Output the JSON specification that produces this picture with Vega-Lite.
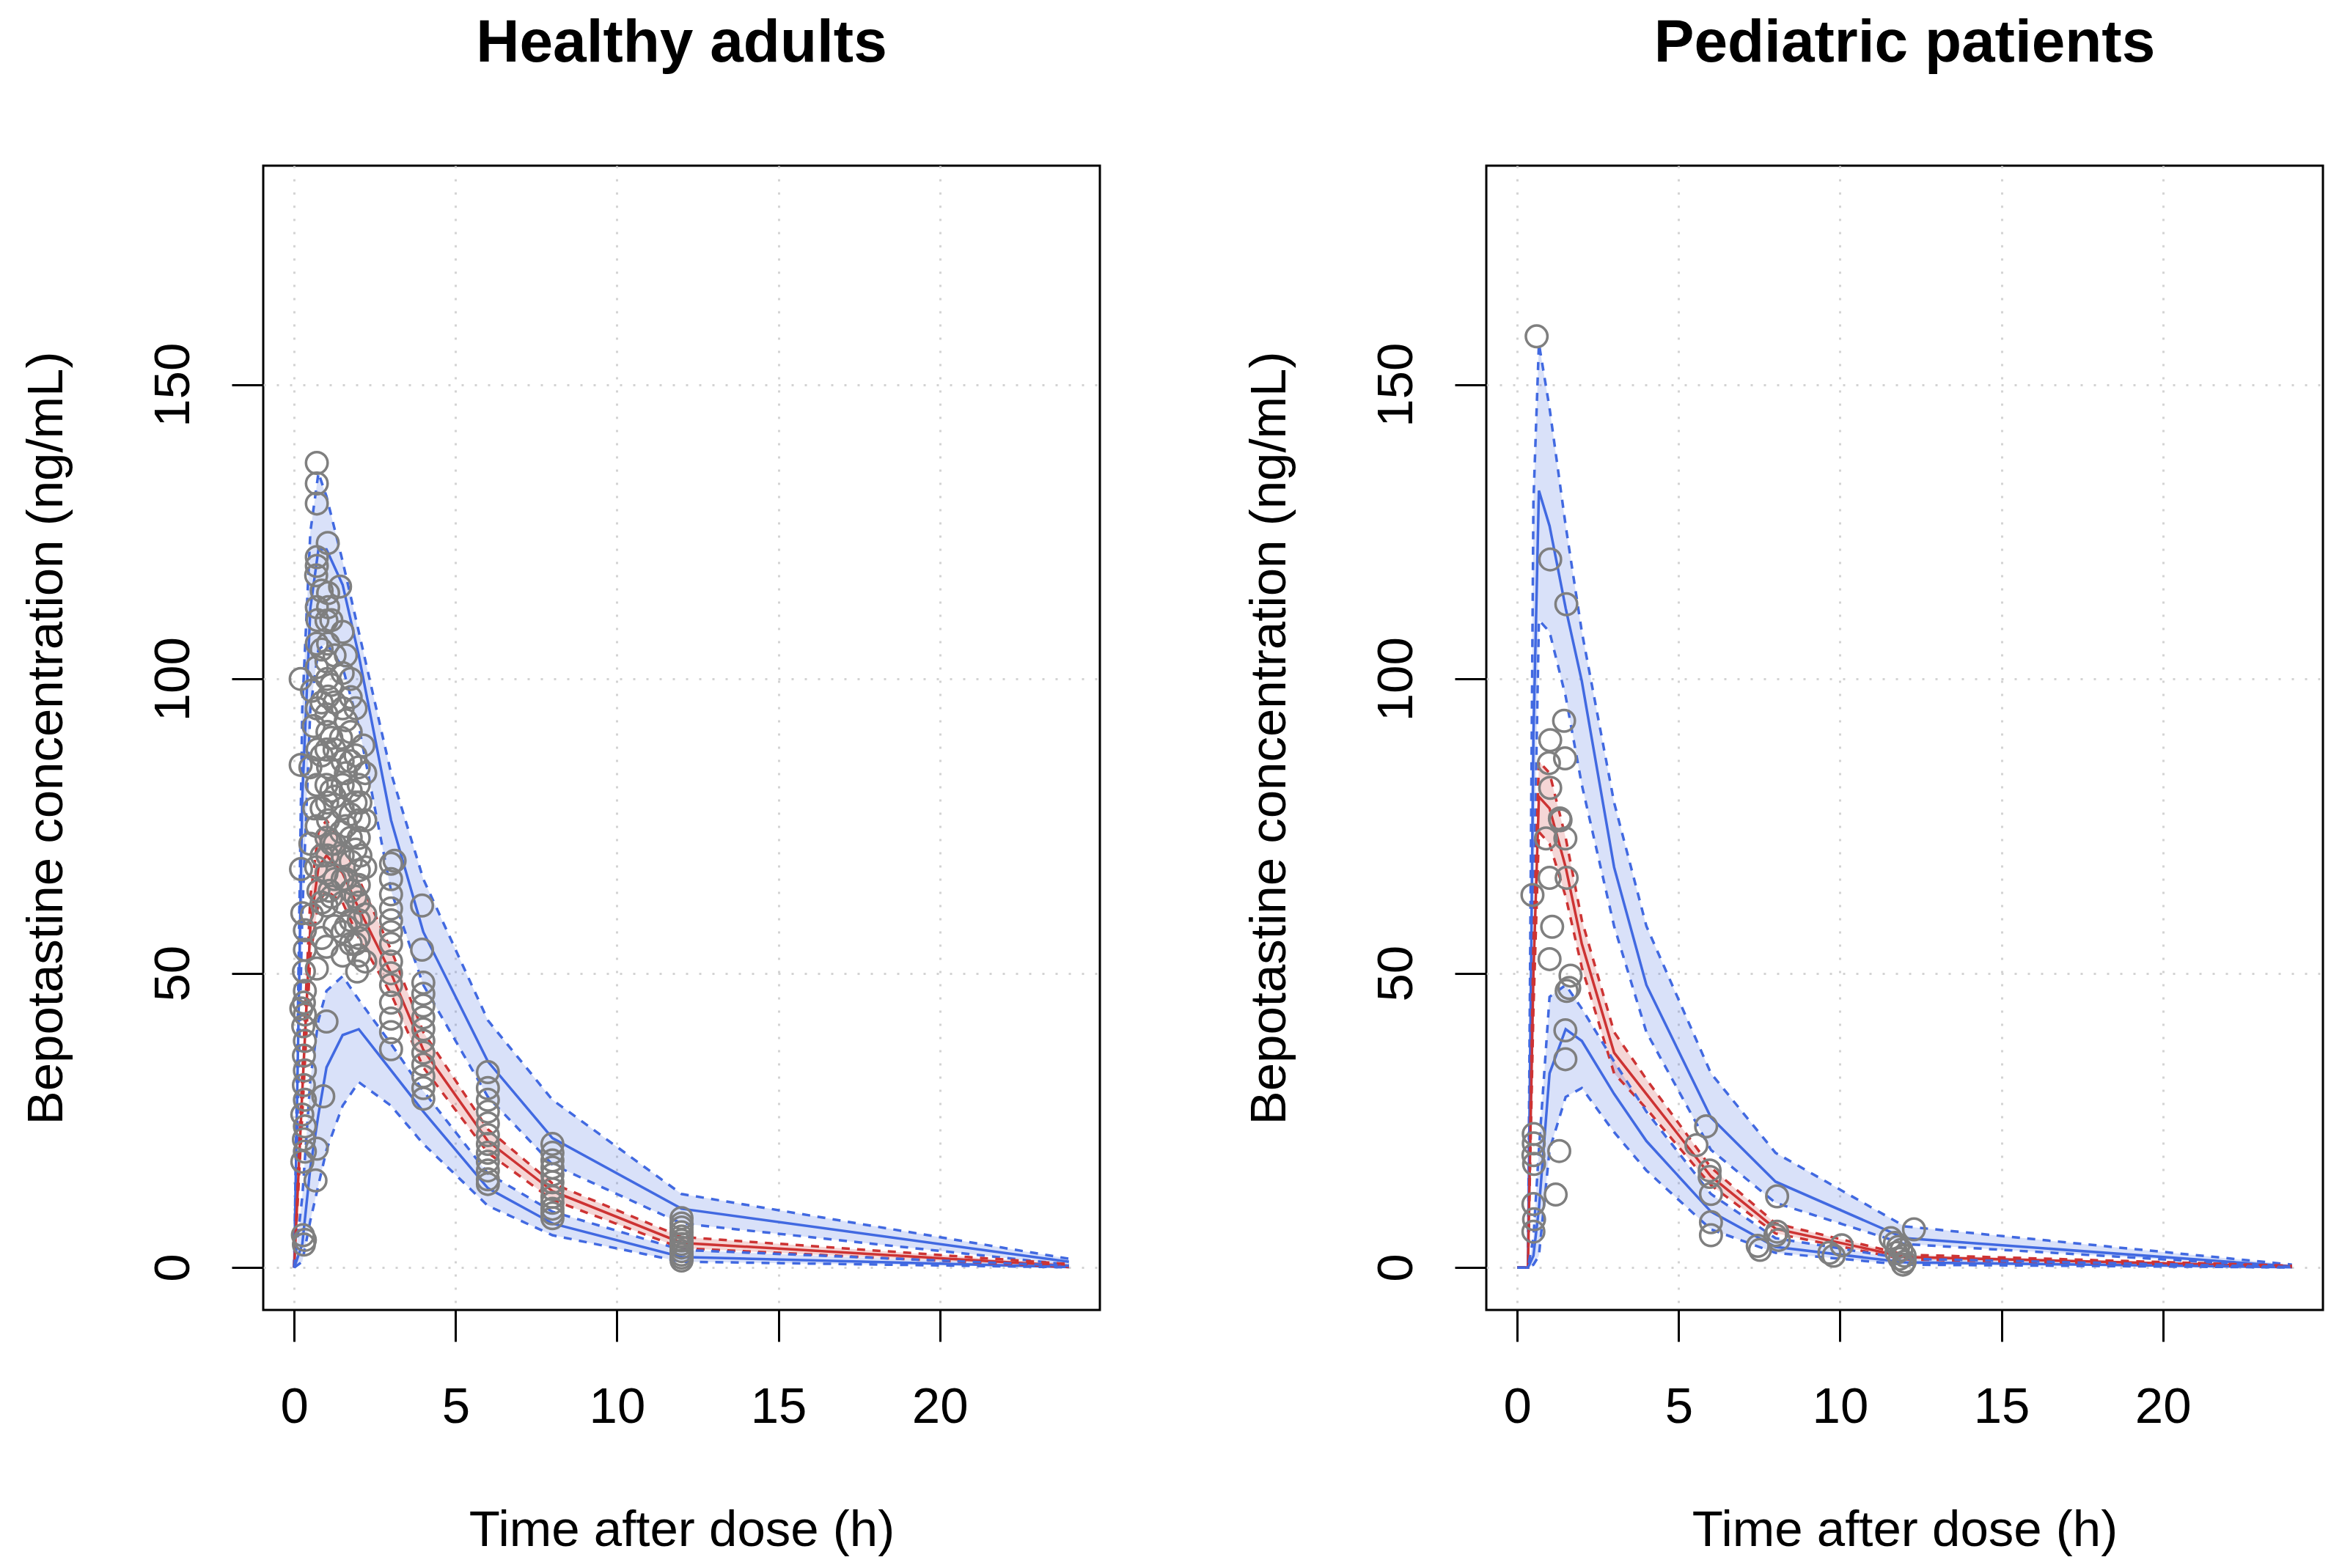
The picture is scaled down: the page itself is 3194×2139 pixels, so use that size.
{
"$schema": "https://vega.github.io/schema/vega-lite/v6.json",
"background": "white",
"padding": {"left": 27, "top": 16, "right": 0, "bottom": 0},
"autosize": {"type": "pad"},
"spacing": 527,
"bounds": "flush",
"config": {
  "font": "Liberation Sans",
  "view": {"stroke": "black", "strokeWidth": 3},
  "axis": {"domain": false, "tickColor": "black", "tickWidth": 3, "tickSize": 43, "labelColor": "black", "labelFontSize": 69, "labelFont": "Liberation Sans", "titleFont": "Liberation Sans", "titleFontSize": 69, "titleFontWeight": "normal", "titleColor": "black", "grid": true, "gridColor": "#D3D3D3", "gridWidth": 3, "gridDash": [3, 15], "labelFlush": false, "labelOverlap": false, "labelBound": false}
},
"datasets": {
"bands": [
{"p":"A","b":"upper","t":0,"lo":0,"mid":0,"hi":0},
{"p":"A","b":"upper","t":0.25,"lo":60,"mid":80,"hi":95},
{"p":"A","b":"upper","t":0.5,"lo":95,"mid":112,"hi":125},
{"p":"A","b":"upper","t":0.75,"lo":105,"mid":122,"hi":135},
{"p":"A","b":"upper","t":1,"lo":106,"mid":122,"hi":131},
{"p":"A","b":"upper","t":1.5,"lo":102,"mid":116,"hi":120},
{"p":"A","b":"upper","t":2,"lo":92,"mid":104,"hi":108},
{"p":"A","b":"upper","t":3,"lo":64,"mid":76,"hi":84},
{"p":"A","b":"upper","t":4,"lo":48,"mid":57,"hi":66},
{"p":"A","b":"upper","t":6,"lo":29,"mid":35,"hi":42},
{"p":"A","b":"upper","t":8,"lo":17.5,"mid":22,"hi":28.5},
{"p":"A","b":"upper","t":12,"lo":7.5,"mid":10,"hi":12.5},
{"p":"A","b":"upper","t":24,"lo":0.5,"mid":1,"hi":1.5},
{"p":"A","b":"median","t":0,"lo":0,"mid":0,"hi":0},
{"p":"A","b":"median","t":0.25,"lo":26,"mid":30,"hi":33},
{"p":"A","b":"median","t":0.5,"lo":53,"mid":58,"hi":63},
{"p":"A","b":"median","t":0.75,"lo":62,"mid":68,"hi":74},
{"p":"A","b":"median","t":1,"lo":64,"mid":70,"hi":76},
{"p":"A","b":"median","t":1.5,"lo":62,"mid":67,"hi":72},
{"p":"A","b":"median","t":2,"lo":56,"mid":61,"hi":66},
{"p":"A","b":"median","t":3,"lo":46.5,"mid":50,"hi":54},
{"p":"A","b":"median","t":4,"lo":34,"mid":37,"hi":40},
{"p":"A","b":"median","t":6,"lo":19.5,"mid":21.5,"hi":23.5},
{"p":"A","b":"median","t":8,"lo":11.5,"mid":13,"hi":14.3},
{"p":"A","b":"median","t":12,"lo":3.3,"mid":4.2,"hi":5.2},
{"p":"A","b":"median","t":24,"lo":0.1,"mid":0.3,"hi":0.6},
{"p":"A","b":"lower","t":0,"lo":0,"mid":0,"hi":0},
{"p":"A","b":"lower","t":0.25,"lo":1,"mid":4,"hi":12},
{"p":"A","b":"lower","t":0.5,"lo":8,"mid":17,"hi":32},
{"p":"A","b":"lower","t":0.75,"lo":14,"mid":26,"hi":42},
{"p":"A","b":"lower","t":1,"lo":20,"mid":34,"hi":47},
{"p":"A","b":"lower","t":1.5,"lo":27.5,"mid":39.5,"hi":49.5},
{"p":"A","b":"lower","t":2,"lo":31.5,"mid":40.5,"hi":45.5},
{"p":"A","b":"lower","t":3,"lo":27.5,"mid":33.5,"hi":38},
{"p":"A","b":"lower","t":4,"lo":21,"mid":26.5,"hi":30},
{"p":"A","b":"lower","t":6,"lo":10.5,"mid":13.5,"hi":16},
{"p":"A","b":"lower","t":8,"lo":5.5,"mid":7.5,"hi":9.5},
{"p":"A","b":"lower","t":12,"lo":1,"mid":1.8,"hi":3},
{"p":"A","b":"lower","t":24,"lo":0.05,"mid":0.1,"hi":0.3},
{"p":"P","b":"upper","t":0,"lo":0,"mid":0,"hi":0},
{"p":"P","b":"upper","t":0.33,"lo":0,"mid":0,"hi":0},
{"p":"P","b":"upper","t":0.5,"lo":60,"mid":90,"hi":130},
{"p":"P","b":"upper","t":0.67,"lo":110,"mid":132,"hi":157},
{"p":"P","b":"upper","t":1,"lo":108,"mid":126,"hi":146},
{"p":"P","b":"upper","t":1.5,"lo":97,"mid":112,"hi":126},
{"p":"P","b":"upper","t":2,"lo":82,"mid":99.6,"hi":108},
{"p":"P","b":"upper","t":3,"lo":58,"mid":68,"hi":79},
{"p":"P","b":"upper","t":4,"lo":40,"mid":48,"hi":58},
{"p":"P","b":"upper","t":6,"lo":20,"mid":25.5,"hi":33},
{"p":"P","b":"upper","t":8,"lo":11,"mid":14.6,"hi":19.5},
{"p":"P","b":"upper","t":12,"lo":4,"mid":5,"hi":7},
{"p":"P","b":"upper","t":24,"lo":0.1,"mid":0.2,"hi":0.5},
{"p":"P","b":"median","t":0,"lo":0,"mid":0,"hi":0},
{"p":"P","b":"median","t":0.33,"lo":0,"mid":0,"hi":0},
{"p":"P","b":"median","t":0.5,"lo":44,"mid":50,"hi":55},
{"p":"P","b":"median","t":0.67,"lo":74,"mid":80,"hi":86},
{"p":"P","b":"median","t":1,"lo":72,"mid":78,"hi":84},
{"p":"P","b":"median","t":1.5,"lo":63,"mid":68,"hi":73},
{"p":"P","b":"median","t":2,"lo":51,"mid":55,"hi":59},
{"p":"P","b":"median","t":3,"lo":33,"mid":36.5,"hi":40},
{"p":"P","b":"median","t":4,"lo":27,"mid":29.5,"hi":32},
{"p":"P","b":"median","t":6,"lo":14,"mid":15.5,"hi":17},
{"p":"P","b":"median","t":8,"lo":5.8,"mid":6.6,"hi":7.5},
{"p":"P","b":"median","t":12,"lo":1.4,"mid":1.8,"hi":2.2},
{"p":"P","b":"median","t":24,"lo":0.1,"mid":0.2,"hi":0.3},
{"p":"P","b":"lower","t":0,"lo":0,"mid":0,"hi":0},
{"p":"P","b":"lower","t":0.33,"lo":0,"mid":0,"hi":0},
{"p":"P","b":"lower","t":0.5,"lo":0.5,"mid":2,"hi":5},
{"p":"P","b":"lower","t":0.67,"lo":2,"mid":10,"hi":20},
{"p":"P","b":"lower","t":1,"lo":20,"mid":33,"hi":46},
{"p":"P","b":"lower","t":1.5,"lo":29,"mid":40.5,"hi":48},
{"p":"P","b":"lower","t":2,"lo":30.5,"mid":38.5,"hi":44},
{"p":"P","b":"lower","t":3,"lo":23,"mid":29.5,"hi":35},
{"p":"P","b":"lower","t":4,"lo":16.5,"mid":21.5,"hi":26.5},
{"p":"P","b":"lower","t":6,"lo":6.5,"mid":9.5,"hi":12.5},
{"p":"P","b":"lower","t":8,"lo":2.5,"mid":3.5,"hi":5},
{"p":"P","b":"lower","t":12,"lo":0.5,"mid":0.9,"hi":1.5},
{"p":"P","b":"lower","t":24,"lo":0.02,"mid":0.05,"hi":0.1}
],
"obs": [
{"p":"A","t":0.2,"c":100},{"p":"A","t":0.2,"c":85.4},{"p":"A","t":0.21,"c":67.7},{"p":"A","t":0.25,"c":60.2},{"p":"A","t":0.33,"c":57.3},{"p":"A","t":0.33,"c":54},{"p":"A","t":0.3,"c":50.3},{"p":"A","t":0.33,"c":47},{"p":"A","t":0.3,"c":45},{"p":"A","t":0.33,"c":43},{"p":"A","t":0.28,"c":41},{"p":"A","t":0.33,"c":38.5},{"p":"A","t":0.3,"c":36},{"p":"A","t":0.33,"c":33.5},{"p":"A","t":0.3,"c":31},{"p":"A","t":0.33,"c":28.5},{"p":"A","t":0.25,"c":26},{"p":"A","t":0.33,"c":24},{"p":"A","t":0.3,"c":21.8},{"p":"A","t":0.33,"c":19.7},{"p":"A","t":0.33,"c":4.7},{"p":"A","t":0.3,"c":3.9},{"p":"A","t":0.27,"c":5.5},{"p":"A","t":0.25,"c":18},{"p":"A","t":0.22,"c":44},
{"p":"A","t":0.7,"c":136.7},{"p":"A","t":0.7,"c":133.2},{"p":"A","t":0.7,"c":129.8},{"p":"A","t":0.7,"c":120.7},{"p":"A","t":0.7,"c":119.2},{"p":"A","t":0.68,"c":117.6},{"p":"A","t":0.7,"c":112.2},{"p":"A","t":0.72,"c":110},{"p":"A","t":0.7,"c":106},{"p":"A","t":0.7,"c":102},{"p":"A","t":0.55,"c":98},{"p":"A","t":0.7,"c":95},{"p":"A","t":0.6,"c":92},{"p":"A","t":0.72,"c":88},{"p":"A","t":0.5,"c":85},{"p":"A","t":0.7,"c":82},{"p":"A","t":0.62,"c":78},{"p":"A","t":0.7,"c":75},{"p":"A","t":0.5,"c":72},{"p":"A","t":0.68,"c":68},{"p":"A","t":0.75,"c":64},{"p":"A","t":0.7,"c":50.8},{"p":"A","t":0.7,"c":20.2},{"p":"A","t":0.66,"c":14.8},{"p":"A","t":0.9,"c":29.1},{"p":"A","t":0.55,"c":60},
{"p":"A","t":0.85,"c":115},{"p":"A","t":0.85,"c":105},{"p":"A","t":0.85,"c":96},{"p":"A","t":0.85,"c":87},{"p":"A","t":0.85,"c":78},{"p":"A","t":0.85,"c":70},{"p":"A","t":0.85,"c":62},{"p":"A","t":0.85,"c":56},
{"p":"A","t":1.04,"c":123.1},{"p":"A","t":1.05,"c":114.6},{"p":"A","t":1.05,"c":112.2},{"p":"A","t":1.0,"c":109.9},{"p":"A","t":1.05,"c":106},{"p":"A","t":1.0,"c":103},{"p":"A","t":1.02,"c":100},{"p":"A","t":1.05,"c":97},{"p":"A","t":1.0,"c":94},{"p":"A","t":1.03,"c":91},{"p":"A","t":1.0,"c":88},{"p":"A","t":1.05,"c":85},{"p":"A","t":1.0,"c":82},{"p":"A","t":1.02,"c":79},{"p":"A","t":1.05,"c":76},{"p":"A","t":1.0,"c":73},{"p":"A","t":1.03,"c":70},{"p":"A","t":1.0,"c":67},{"p":"A","t":1.0,"c":61.5},{"p":"A","t":1.0,"c":54.5},{"p":"A","t":1.0,"c":41.8},{"p":"A","t":1.1,"c":64},
{"p":"A","t":1.15,"c":110},{"p":"A","t":1.15,"c":99},{"p":"A","t":1.15,"c":90},{"p":"A","t":1.15,"c":81},{"p":"A","t":1.15,"c":72},{"p":"A","t":1.15,"c":63},{"p":"A","t":1.25,"c":104},{"p":"A","t":1.25,"c":96},{"p":"A","t":1.25,"c":88},{"p":"A","t":1.25,"c":80},{"p":"A","t":1.25,"c":72},{"p":"A","t":1.25,"c":66},{"p":"A","t":1.25,"c":58},
{"p":"A","t":1.42,"c":115.7},{"p":"A","t":1.5,"c":108},{"p":"A","t":1.5,"c":101},{"p":"A","t":1.5,"c":95},{"p":"A","t":1.45,"c":90},{"p":"A","t":1.5,"c":86},{"p":"A","t":1.5,"c":82},{"p":"A","t":1.5,"c":78},{"p":"A","t":1.45,"c":74},{"p":"A","t":1.5,"c":70},{"p":"A","t":1.5,"c":66},{"p":"A","t":1.5,"c":62},{"p":"A","t":1.5,"c":57},{"p":"A","t":1.5,"c":53},
{"p":"A","t":1.6,"c":104},{"p":"A","t":1.6,"c":93},{"p":"A","t":1.6,"c":84},{"p":"A","t":1.6,"c":75},{"p":"A","t":1.6,"c":66},{"p":"A","t":1.6,"c":58},
{"p":"A","t":1.75,"c":100},{"p":"A","t":1.75,"c":96.9},{"p":"A","t":1.75,"c":91},{"p":"A","t":1.75,"c":86},{"p":"A","t":1.75,"c":81},{"p":"A","t":1.75,"c":77},{"p":"A","t":1.75,"c":73},{"p":"A","t":1.75,"c":69},{"p":"A","t":1.75,"c":64},{"p":"A","t":1.75,"c":59},{"p":"A","t":1.75,"c":55},
{"p":"A","t":1.9,"c":95},{"p":"A","t":1.9,"c":87},{"p":"A","t":1.9,"c":79},{"p":"A","t":1.9,"c":71},{"p":"A","t":1.9,"c":63},{"p":"A","t":1.9,"c":55},
{"p":"A","t":2.14,"c":88.7},{"p":"A","t":2.0,"c":85},{"p":"A","t":2.0,"c":82},{"p":"A","t":2.05,"c":79},{"p":"A","t":2.0,"c":76},{"p":"A","t":2.0,"c":73},{"p":"A","t":2.05,"c":70},{"p":"A","t":2.0,"c":67.5},{"p":"A","t":2.0,"c":65},{"p":"A","t":2.0,"c":62},{"p":"A","t":2.0,"c":59},{"p":"A","t":2.0,"c":56},{"p":"A","t":2.0,"c":53},{"p":"A","t":1.95,"c":50.3},
{"p":"A","t":2.2,"c":84},{"p":"A","t":2.2,"c":76},{"p":"A","t":2.2,"c":68},{"p":"A","t":2.2,"c":60},{"p":"A","t":2.2,"c":52},
{"p":"A","t":3.11,"c":69.1},{"p":"A","t":3.0,"c":68.6},{"p":"A","t":3.0,"c":66},{"p":"A","t":3.0,"c":63.4},{"p":"A","t":3.0,"c":61},{"p":"A","t":3.0,"c":59},{"p":"A","t":3.0,"c":57},{"p":"A","t":3.0,"c":55},{"p":"A","t":3.0,"c":52},{"p":"A","t":3.0,"c":50},{"p":"A","t":3.0,"c":48},{"p":"A","t":3.0,"c":45},{"p":"A","t":3.0,"c":42.3},{"p":"A","t":3.0,"c":40},{"p":"A","t":3.0,"c":37.1},
{"p":"A","t":3.96,"c":61.5},{"p":"A","t":3.96,"c":54},{"p":"A","t":4.0,"c":48.4},{"p":"A","t":4.0,"c":46.5},{"p":"A","t":4.0,"c":44.5},{"p":"A","t":4.0,"c":42.5},{"p":"A","t":4.0,"c":40.5},{"p":"A","t":4.0,"c":38.5},{"p":"A","t":4.0,"c":36.5},{"p":"A","t":4.0,"c":34.5},{"p":"A","t":4.0,"c":32.5},{"p":"A","t":4.0,"c":30.5},{"p":"A","t":4.0,"c":28.7},
{"p":"A","t":6.0,"c":33.2},{"p":"A","t":6.0,"c":30.5},{"p":"A","t":6.0,"c":28.5},{"p":"A","t":6.0,"c":26.5},{"p":"A","t":6.0,"c":24.5},{"p":"A","t":6.0,"c":22.5},{"p":"A","t":6.0,"c":21},{"p":"A","t":6.0,"c":19.5},{"p":"A","t":6.0,"c":18},{"p":"A","t":6.0,"c":16.5},{"p":"A","t":6.0,"c":15},{"p":"A","t":6.0,"c":14.2},
{"p":"A","t":8.0,"c":21},{"p":"A","t":8.0,"c":19.5},{"p":"A","t":8.0,"c":18.2},{"p":"A","t":8.0,"c":17},{"p":"A","t":8.0,"c":15.8},{"p":"A","t":8.0,"c":14.5},{"p":"A","t":8.0,"c":13.3},{"p":"A","t":8.0,"c":12},{"p":"A","t":8.0,"c":11},{"p":"A","t":8.0,"c":10},{"p":"A","t":8.0,"c":9.2},{"p":"A","t":8.0,"c":8.4},
{"p":"A","t":12.0,"c":8.4},{"p":"A","t":12.0,"c":7.5},{"p":"A","t":12.0,"c":6.8},{"p":"A","t":12.0,"c":6.0},{"p":"A","t":12.0,"c":5.3},{"p":"A","t":12.0,"c":4.6},{"p":"A","t":12.0,"c":4.0},{"p":"A","t":12.0,"c":3.4},{"p":"A","t":12.0,"c":2.8},{"p":"A","t":12.0,"c":2.2},{"p":"A","t":12.0,"c":1.7},{"p":"A","t":12.0,"c":1.2},
{"p":"P","t":0.6,"c":158.2},{"p":"P","t":0.47,"c":63.3},{"p":"P","t":0.51,"c":22.7},{"p":"P","t":0.51,"c":21.1},{"p":"P","t":0.5,"c":19.1},{"p":"P","t":0.52,"c":17.6},{"p":"P","t":0.5,"c":10.8},{"p":"P","t":0.52,"c":8.2},{"p":"P","t":0.5,"c":6.1},
{"p":"P","t":1.02,"c":120.3},{"p":"P","t":1.02,"c":89.6},{"p":"P","t":0.98,"c":85.7},{"p":"P","t":1.02,"c":81.5},{"p":"P","t":0.89,"c":72.9},{"p":"P","t":1.0,"c":66.2},{"p":"P","t":1.08,"c":57.9},{"p":"P","t":1.0,"c":52.4},
{"p":"P","t":1.32,"c":76.3},{"p":"P","t":1.34,"c":76.0},{"p":"P","t":1.3,"c":19.8},{"p":"P","t":1.19,"c":12.4},
{"p":"P","t":1.52,"c":112.7},{"p":"P","t":1.45,"c":92.9},{"p":"P","t":1.48,"c":86.5},{"p":"P","t":1.49,"c":72.9},{"p":"P","t":1.53,"c":66.2},{"p":"P","t":1.65,"c":49.6},{"p":"P","t":1.61,"c":47.5},{"p":"P","t":1.53,"c":47.0},{"p":"P","t":1.49,"c":40.3},{"p":"P","t":1.49,"c":35.4},
{"p":"P","t":5.85,"c":24.0},{"p":"P","t":5.55,"c":20.8},{"p":"P","t":5.96,"c":16.5},{"p":"P","t":5.96,"c":15.4},{"p":"P","t":6.0,"c":12.5},{"p":"P","t":6.0,"c":7.7},{"p":"P","t":6.0,"c":5.5},
{"p":"P","t":8.05,"c":12.1},{"p":"P","t":8.05,"c":6.1},{"p":"P","t":8.0,"c":5.5},{"p":"P","t":8.1,"c":4.7},{"p":"P","t":7.52,"c":3.0},{"p":"P","t":7.45,"c":3.7},
{"p":"P","t":9.67,"c":2.5},{"p":"P","t":10.05,"c":3.8},{"p":"P","t":9.8,"c":2.0},
{"p":"P","t":11.57,"c":5.0},{"p":"P","t":11.7,"c":4.2},{"p":"P","t":11.8,"c":3.5},{"p":"P","t":11.9,"c":3.0},{"p":"P","t":11.75,"c":2.5},{"p":"P","t":12.0,"c":2.0},{"p":"P","t":11.85,"c":1.5},{"p":"P","t":12.0,"c":1.0},{"p":"P","t":11.95,"c":0.5},{"p":"P","t":12.29,"c":6.5}
]
},
"hconcat": [
{
 "width": 1141, "height": 1561,
 "title": {"text": "Healthy adults", "fontSize": 82, "fontWeight": "bold", "font": "Liberation Sans", "color": "black", "anchor": "middle", "frame": "group", "baseline": "alphabetic", "offset": 60},
 "layer": [
  {"data": {"name": "bands"}, "transform": [{"filter": "datum.p === 'A'"}],
   "mark": {"type": "area", "fillOpacity": 0.2, "strokeWidth": 0},
   "encoding": {
     "x": {"field": "t", "type": "quantitative", "scale": {"domain": [-0.96, 24.96], "nice": false, "zero": false},
           "axis": {"values": [0, 5, 10, 15, 20], "title": "Time after dose (h)", "labelBaseline": "alphabetic", "labelAlign": "center", "labelPadding": 110, "titleBaseline": "alphabetic", "titleAlign": "center", "titleX": 570.5, "titleY": 321}},
     "y": {"field": "lo", "type": "quantitative", "scale": {"domain": [-7.2, 187.2], "nice": false, "zero": false},
           "axis": {"values": [0, 50, 100, 150], "title": "Bepotastine concentration (ng/mL)", "labelAngle": -90, "labelAlign": "center", "labelBaseline": "alphabetic", "labelPadding": 59, "titleAngle": -90, "titleAlign": "center", "titleBaseline": "alphabetic", "titleX": -274.6, "titleY": 780.5}},
     "y2": {"field": "hi"},
     "color": {"field": "b", "type": "nominal", "scale": {"domain": ["upper", "median", "lower"], "range": ["#4169E1", "#CD3333", "#4169E1"]}, "legend": null}
   }},
  {"data": {"name": "bands"}, "transform": [{"filter": "datum.p === 'A'"}],
   "mark": {"type": "line", "strokeWidth": 3.5},
   "encoding": {"x": {"field": "t", "type": "quantitative"}, "y": {"field": "mid", "type": "quantitative"}, "color": {"field": "b", "type": "nominal", "legend": null}}},
  {"data": {"name": "bands"}, "transform": [{"filter": "datum.p === 'A'"}],
   "mark": {"type": "line", "strokeWidth": 3.5, "strokeDash": [11, 10]},
   "encoding": {"x": {"field": "t", "type": "quantitative"}, "y": {"field": "lo", "type": "quantitative"}, "color": {"field": "b", "type": "nominal", "legend": null}}},
  {"data": {"name": "bands"}, "transform": [{"filter": "datum.p === 'A'"}],
   "mark": {"type": "line", "strokeWidth": 3.5, "strokeDash": [11, 10]},
   "encoding": {"x": {"field": "t", "type": "quantitative"}, "y": {"field": "hi", "type": "quantitative"}, "color": {"field": "b", "type": "nominal", "legend": null}}},
  {"data": {"name": "obs"}, "transform": [{"filter": "datum.p === 'A'"}],
   "mark": {"type": "point", "shape": "circle", "filled": false, "size": 870, "strokeWidth": 3.5, "color": "#7F7F7F", "opacity": 1},
   "encoding": {"x": {"field": "t", "type": "quantitative"}, "y": {"field": "c", "type": "quantitative"}}}
 ]
},
{
 "width": 1141, "height": 1561,
 "title": {"text": "Pediatric patients", "fontSize": 82, "fontWeight": "bold", "font": "Liberation Sans", "color": "black", "anchor": "middle", "frame": "group", "baseline": "alphabetic", "offset": 60},
 "layer": [
  {"data": {"name": "bands"}, "transform": [{"filter": "datum.p === 'P'"}],
   "mark": {"type": "area", "fillOpacity": 0.2, "strokeWidth": 0},
   "encoding": {
     "x": {"field": "t", "type": "quantitative", "scale": {"domain": [-0.96, 24.96], "nice": false, "zero": false},
           "axis": {"values": [0, 5, 10, 15, 20], "title": "Time after dose (h)", "labelBaseline": "alphabetic", "labelAlign": "center", "labelPadding": 110, "titleBaseline": "alphabetic", "titleAlign": "center", "titleX": 570.5, "titleY": 321}},
     "y": {"field": "lo", "type": "quantitative", "scale": {"domain": [-7.2, 187.2], "nice": false, "zero": false},
           "axis": {"values": [0, 50, 100, 150], "title": "Bepotastine concentration (ng/mL)", "labelAngle": -90, "labelAlign": "center", "labelBaseline": "alphabetic", "labelPadding": 59, "titleAngle": -90, "titleAlign": "center", "titleBaseline": "alphabetic", "titleX": -274.6, "titleY": 780.5}},
     "y2": {"field": "hi"},
     "color": {"field": "b", "type": "nominal", "scale": {"domain": ["upper", "median", "lower"], "range": ["#4169E1", "#CD3333", "#4169E1"]}, "legend": null}
   }},
  {"data": {"name": "bands"}, "transform": [{"filter": "datum.p === 'P'"}],
   "mark": {"type": "line", "strokeWidth": 3.5},
   "encoding": {"x": {"field": "t", "type": "quantitative"}, "y": {"field": "mid", "type": "quantitative"}, "color": {"field": "b", "type": "nominal", "legend": null}}},
  {"data": {"name": "bands"}, "transform": [{"filter": "datum.p === 'P'"}],
   "mark": {"type": "line", "strokeWidth": 3.5, "strokeDash": [11, 10]},
   "encoding": {"x": {"field": "t", "type": "quantitative"}, "y": {"field": "lo", "type": "quantitative"}, "color": {"field": "b", "type": "nominal", "legend": null}}},
  {"data": {"name": "bands"}, "transform": [{"filter": "datum.p === 'P'"}],
   "mark": {"type": "line", "strokeWidth": 3.5, "strokeDash": [11, 10]},
   "encoding": {"x": {"field": "t", "type": "quantitative"}, "y": {"field": "hi", "type": "quantitative"}, "color": {"field": "b", "type": "nominal", "legend": null}}},
  {"data": {"name": "obs"}, "transform": [{"filter": "datum.p === 'P'"}],
   "mark": {"type": "point", "shape": "circle", "filled": false, "size": 870, "strokeWidth": 3.5, "color": "#7F7F7F", "opacity": 1},
   "encoding": {"x": {"field": "t", "type": "quantitative"}, "y": {"field": "c", "type": "quantitative"}}}
 ]
}
]
}
